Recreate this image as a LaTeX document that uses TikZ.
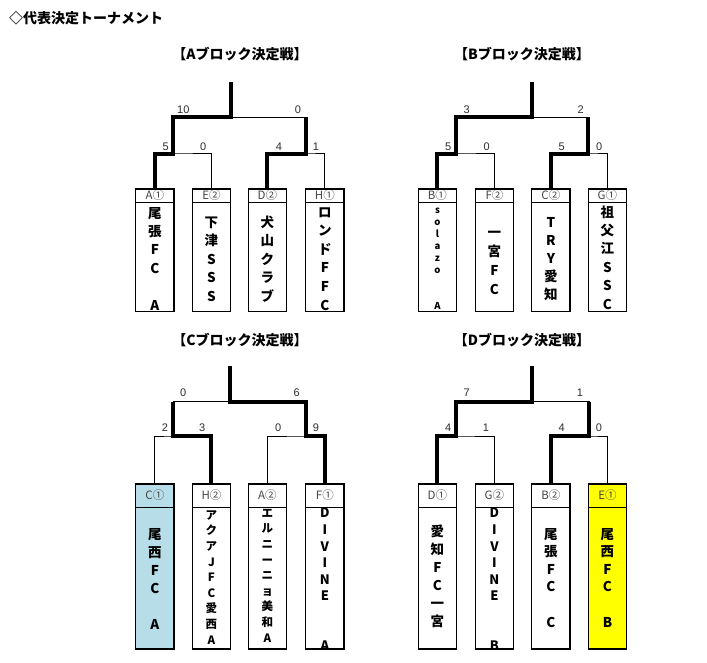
\documentclass[tikz,border=0pt]{standalone}
\usepackage{fontspec}
\newfontfamily\jp{Noto Sans CJK JP}
\newfontfamily\lat{Liberation Sans}
\definecolor{hdrgray}{RGB}{70,70,70}
\definecolor{scoregray}{RGB}{45,45,45}
\definecolor{lblue}{RGB}{183,222,232}
\definecolor{yel}{RGB}{255,255,0}
\def\ytT{189}\def\yhT{202.3}\def\ybT{311.7}
\def\ytB{484}\def\yhB{507}\def\ybB{649}
\tikzset{
  teambox/.style={draw=black, line width=1.4pt, minimum width=38.3pt, inner sep=0pt, outer sep=0pt},
  hdrline/.style={line width=0.6pt, draw=black},
  thinln/.style={line width=1pt, draw=black},
  thickln/.style={line width=4pt, draw=black},
  score/.style={anchor=base, inner sep=0pt, font=\lat\fontsize{11}{11}\selectfont, text=scoregray},
  hdrtext/.style={anchor=base, inner sep=0pt, font=\jp\fontsize{11.5}{11.5}\selectfont, text=hdrgray},
  nametext/.style={anchor=base, inner sep=0pt},
  btitle/.style={anchor=base, inner sep=0pt, font=\jp\bfseries\fontsize{14}{14}\selectfont},
}
% #1 name, #2 left x, #3 row T/B, #4 fill, #5 header, #6 chars, #7 first y, #8 pitch, #9 size
\newcommand{\tbox}[9]{%
  \pgfmathsetmacro\bxc{#2+19.15}%
  \pgfmathsetmacro\byt{\csname yt#3\endcsname}%
  \pgfmathsetmacro\byh{\csname yh#3\endcsname}%
  \pgfmathsetmacro\byb{\csname yb#3\endcsname}%
  \pgfmathsetmacro\bym{(\byt+\byb)/2}%
  \pgfmathsetmacro\bht{\byb-\byt}%
  \node[teambox, fill=#4, minimum height=\bht pt] (#1) at (\bxc,\bym) {};
  \node[hdrtext] (#1-h) at (\bxc,{(\byt+\byh)/2+4.2}) {#5};
  \begin{scope}
    \clip (#2,\byh) rectangle (#2+38.3,\byb);
    \foreach \c [count=\i from 0] in {#6} {
      \node[nametext, font=\jp\bfseries\fontsize{#9}{#9}\selectfont] (#1-c\i) at (\bxc,{#7+\i*#8+0.38*#9}) {\c};
    }
  \end{scope}
  \draw[hdrline] (#2,\byh) -- (#2+38.3,\byh);
  \draw[line width=1.4pt] (#1.north west) rectangle (#1.south east);
}
\begin{document}
\begin{tikzpicture}[x=1pt,y=-1pt]
\fill[white] (0,0) rectangle (707,663);
\useasboundingbox (0,0) rectangle (707,663);

\node[btitle, anchor=base west] (title) at (9,24) {◇代表決定トーナメント};
\node[btitle] (tA) at (240,60) {【Aブロック決定戦】};
\node[btitle] (tB) at (522,60) {【Bブロック決定戦】};
\node[btitle] (tC) at (240,345) {【Cブロック決定戦】};
\node[btitle] (tD) at (522,345) {【Dブロック決定戦】};

% coordinates
\coordinate (A-top) at (231,82);   \coordinate (A-fin) at (231,117.5);
\coordinate (A-sl) at (173,154);   \coordinate (A-sr) at (306,154);
\coordinate (B-top) at (532.3,82); \coordinate (B-fin) at (532.3,117.5);
\coordinate (B-sl) at (456,154);   \coordinate (B-sr) at (588.3,154);
\coordinate (C-top) at (230,365.7); \coordinate (C-fin) at (230,401.5);
\coordinate (C-sl) at (173,436);   \coordinate (C-sr) at (306,436);
\coordinate (D-top) at (532.3,365.7); \coordinate (D-fin) at (532.3,401.5);
\coordinate (D-sl) at (456,436);   \coordinate (D-sr) at (589,436);

% boxes
\tbox{A1}{135.7}{T}{white}{A①}{尾,張,F,C,{},A}{213}{18.4}{13.5}
\tbox{A2}{192.3}{T}{white}{E②}{下,津,S,S,S}{222}{18.6}{13.5}
\tbox{A3}{248.3}{T}{white}{D②}{犬,山,ク,ラ,ブ}{222}{18.6}{13.5}
\tbox{A4}{305.7}{T}{white}{H①}{ロ,ン,ド,F,F,C}{212}{18.6}{13.5}
\tbox{B1}{418.3}{T}{white}{B①}{s,o,l,a,z,o,{},{},A}{210}{12}{9.5}
\tbox{B2}{475.3}{T}{white}{F②}{一,宮,F,C}{232}{19}{13.5}
\tbox{B3}{531.7}{T}{white}{C②}{T,R,Y,愛,知}{222}{18}{13.5}
\tbox{B4}{588.3}{T}{white}{G①}{祖,父,江,S,S,C}{212}{18.4}{13.5}
\tbox{C1}{135.7}{B}{lblue}{C①}{尾,西,F,C,{},A}{534}{18}{13.5}
\tbox{C2}{192.3}{B}{white}{H②}{ア,ク,ア,J,F,C,愛,西,A}{515}{15.6}{11.5}
\tbox{C3}{248.3}{B}{white}{A②}{エ,ル,ニ,ー,ニ,ョ,美,和,A}{513}{15.6}{11.5}
\tbox{C4}{305.7}{B}{white}{F①}{D,I,V,I,N,E,{},{},A}{513}{16.6}{13}
\tbox{D1}{418.3}{B}{white}{D①}{愛,知,F,C,一,宮}{531}{18}{13.5}
\tbox{D2}{475.3}{B}{white}{G②}{D,I,V,I,N,E,{},{},B}{513}{16.6}{13}
\tbox{D3}{531.7}{B}{white}{B②}{尾,張,F,C,{},C}{534}{17.6}{13.5}
\tbox{D4}{588.3}{B}{yel}{E①}{尾,西,F,C,{},B}{534}{17.6}{13.5}

% thin bracket lines
\foreach \X in {A,B,C,D} {
  \draw[thinln] (\X1.north) |- (\X-sl) -| (\X2.north);
  \draw[thinln] (\X3.north) |- (\X-sr) -| (\X4.north);
  \draw[thinln] (\X-sl) |- (\X-fin) -| (\X-sr);
  \draw[thinln] (\X-fin) -- (\X-top);
}
% winning paths
\draw[thickln] (A1.north) |- (A-sl) |- (A-fin) -- (A-top);
\draw[thickln] (A3.north) |- (A-sr) -- (A-sr |- A-fin);
\draw[thickln] (B1.north) |- (B-sl) |- (B-fin) -- (B-top);
\draw[thickln] (B3.north) |- (B-sr) -- (B-sr |- B-fin);
\draw[thickln] (C2.north) |- (C-sl) -- (C-sl |- C-fin);
\draw[thickln] (C4.north) |- (C-sr) |- (C-fin) -- (C-top);
\draw[thickln] (D1.north) |- (D-sl) |- (D-fin) -- (D-top);
\draw[thickln] (D3.north) |- (D-sr) -- (D-sr |- D-fin);

% scores
\node[score] (sA1) at (183.3,113.8) {10};
\node[score] (sA2) at (298,113.8) {0};
\node[score] (sA3) at (165.7,150.3) {5};
\node[score] (sA4) at (203.3,150.3) {0};
\node[score] (sA5) at (279,150.3) {4};
\node[score] (sA6) at (316,150.3) {1};
\node[score] (sB1) at (466.7,113.8) {3};
\node[score] (sB2) at (580.7,113.8) {2};
\node[score] (sB3) at (448.3,150.3) {5};
\node[score] (sB4) at (486.7,150.3) {0};
\node[score] (sB5) at (561.7,150.3) {5};
\node[score] (sB6) at (599.3,150.3) {0};
\node[score] (sC1) at (183.3,396.8) {0};
\node[score] (sC2) at (296.7,396.8) {6};
\node[score] (sC3) at (165,431.8) {2};
\node[score] (sC4) at (202.3,431.8) {3};
\node[score] (sC5) at (278.3,431.8) {0};
\node[score] (sC6) at (316,431.8) {9};
\node[score] (sD1) at (466.7,396.8) {7};
\node[score] (sD2) at (580,396.8) {1};
\node[score] (sD3) at (448.3,431.8) {4};
\node[score] (sD4) at (486,431.8) {1};
\node[score] (sD5) at (561.7,431.8) {4};
\node[score] (sD6) at (599,431.8) {0};
\end{tikzpicture}
\end{document}
